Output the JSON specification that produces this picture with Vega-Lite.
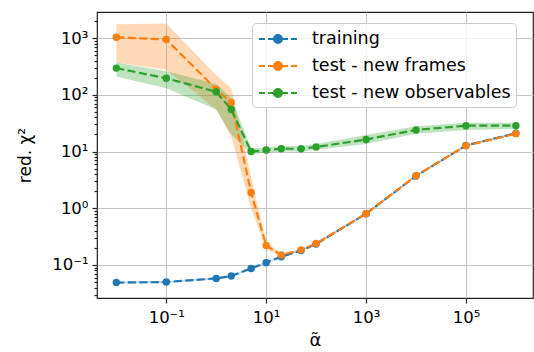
{
  "$schema": "https://vega.github.io/schema/vega-lite/v6.json",
  "width": 436,
  "height": 286,
  "autosize": "none",
  "padding": {"left": 97, "top": 12, "right": 1, "bottom": 54},
  "background": "white",
  "config": {
    "font": "DejaVu Sans",
    "view": {"stroke": "#222222", "strokeWidth": 1.2},
    "axis": {
      "domain": false,
      "labelFont": "DejaVu Sans",
      "labelFontSize": 16.5,
      "labelColor": "#000000",
      "titleFont": "DejaVu Sans",
      "titleFontSize": 17,
      "titleFontWeight": "normal",
      "titleColor": "#000000",
      "tickColor": "#222222",
      "tickWidth": 1.2,
      "gridColor": "#c4c4c4",
      "gridWidth": 1,
      "labelOverlap": false,
      "labelFlush": false
    }
  },
  "data": {
    "values": [
      {"series": "training", "alpha": 0.01, "chi2": 0.049, "lo": 0.047, "hi": 0.051},
      {"series": "training", "alpha": 0.1, "chi2": 0.050, "lo": 0.048, "hi": 0.052},
      {"series": "training", "alpha": 1, "chi2": 0.058, "lo": 0.056, "hi": 0.060},
      {"series": "training", "alpha": 2, "chi2": 0.064, "lo": 0.062, "hi": 0.066},
      {"series": "training", "alpha": 5, "chi2": 0.087, "lo": 0.084, "hi": 0.090},
      {"series": "training", "alpha": 10, "chi2": 0.11, "lo": 0.106, "hi": 0.114},
      {"series": "training", "alpha": 20, "chi2": 0.14, "lo": 0.135, "hi": 0.145},
      {"series": "training", "alpha": 50, "chi2": 0.18, "lo": 0.174, "hi": 0.186},
      {"series": "training", "alpha": 100, "chi2": 0.235, "lo": 0.227, "hi": 0.243},
      {"series": "training", "alpha": 1000, "chi2": 0.8, "lo": 0.77, "hi": 0.83},
      {"series": "training", "alpha": 10000, "chi2": 3.7, "lo": 3.57, "hi": 3.83},
      {"series": "training", "alpha": 100000, "chi2": 12.8, "lo": 12.4, "hi": 13.2},
      {"series": "training", "alpha": 1000000, "chi2": 21, "lo": 20.3, "hi": 21.7},
      {"series": "test - new frames", "alpha": 0.01, "chi2": 1030, "lo": 370, "hi": 1750},
      {"series": "test - new frames", "alpha": 0.1, "chi2": 940, "lo": 275, "hi": 1800},
      {"series": "test - new frames", "alpha": 1, "chi2": 125, "lo": 55, "hi": 220},
      {"series": "test - new frames", "alpha": 2, "chi2": 73, "lo": 18, "hi": 132},
      {"series": "test - new frames", "alpha": 5, "chi2": 1.9, "lo": 1.0, "hi": 3.5},
      {"series": "test - new frames", "alpha": 10, "chi2": 0.22, "lo": 0.19, "hi": 0.26},
      {"series": "test - new frames", "alpha": 20, "chi2": 0.15, "lo": 0.14, "hi": 0.16},
      {"series": "test - new frames", "alpha": 50, "chi2": 0.185, "lo": 0.178, "hi": 0.192},
      {"series": "test - new frames", "alpha": 100, "chi2": 0.24, "lo": 0.232, "hi": 0.248},
      {"series": "test - new frames", "alpha": 1000, "chi2": 0.8, "lo": 0.77, "hi": 0.83},
      {"series": "test - new frames", "alpha": 10000, "chi2": 3.75, "lo": 3.62, "hi": 3.88},
      {"series": "test - new frames", "alpha": 100000, "chi2": 12.7, "lo": 12.3, "hi": 13.1},
      {"series": "test - new frames", "alpha": 1000000, "chi2": 20.5, "lo": 19.8, "hi": 21.2},
      {"series": "test - new observables", "alpha": 0.01, "chi2": 295, "lo": 210, "hi": 370},
      {"series": "test - new observables", "alpha": 0.1, "chi2": 195, "lo": 130, "hi": 260},
      {"series": "test - new observables", "alpha": 1, "chi2": 113, "lo": 55, "hi": 155},
      {"series": "test - new observables", "alpha": 2, "chi2": 55, "lo": 20, "hi": 88},
      {"series": "test - new observables", "alpha": 5, "chi2": 10, "lo": 9, "hi": 11.3},
      {"series": "test - new observables", "alpha": 10, "chi2": 10.6, "lo": 9.5, "hi": 11.8},
      {"series": "test - new observables", "alpha": 20, "chi2": 11.2, "lo": 10, "hi": 12.5},
      {"series": "test - new observables", "alpha": 50, "chi2": 11.2, "lo": 10, "hi": 12.5},
      {"series": "test - new observables", "alpha": 100, "chi2": 12, "lo": 10.7, "hi": 13.5},
      {"series": "test - new observables", "alpha": 1000, "chi2": 16.3, "lo": 13.5, "hi": 19.5},
      {"series": "test - new observables", "alpha": 10000, "chi2": 24, "lo": 20.5, "hi": 28},
      {"series": "test - new observables", "alpha": 100000, "chi2": 28.5, "lo": 24, "hi": 32},
      {"series": "test - new observables", "alpha": 1000000, "chi2": 28.5, "lo": 25, "hi": 32}
    ]
  },
  "encoding": {
    "x": {
      "field": "alpha",
      "type": "quantitative",
      "scale": {"type": "log", "domain": [0.0041, 2200000], "nice": false},
      "axis": {
        "title": "α̃",
        "titleX": 218,
        "titleY": 42,
        "titleFontSize": 18,
        "titleBaseline": "middle",
        "values": [0.1, 10, 1000, 100000],
        "labelExpr": "round(log(datum.value)/LN10) == -1 ? '10⁻¹' : round(log(datum.value)/LN10) == 1 ? '10¹' : round(log(datum.value)/LN10) == 3 ? '10³' : round(log(datum.value)/LN10) == 5 ? '10⁵' : ''",
        "tickSize": 5,
        "labelPadding": 6
      }
    },
    "color": {
      "field": "series",
      "type": "nominal",
      "scale": {
        "domain": ["training", "test - new frames", "test - new observables"],
        "range": ["#1f77b4", "#ff7f0e", "#2ca02c"]
      },
      "legend": {
        "title": null,
        "orient": "none",
        "legendX": 155,
        "legendY": 11,
        "fillColor": "rgba(255,255,255,0.8)",
        "strokeColor": "#cccccc",
        "cornerRadius": 4,
        "padding": 5,
        "rowPadding": 7,
        "labelFont": "DejaVu Sans",
        "labelFontSize": 17.5,
        "labelColor": "#000000",
        "labelOffset": 33,
        "labelLimit": 400,
        "symbolType": "M-0.9,0H-0.3M0,0H0.6M1.4,0H2M2.3,0H2.9M0.6,0A0.4,0.4,0,1,1,1.4,0A0.4,0.4,0,1,1,0.6,0Z",
        "symbolSize": 400,
        "symbolStrokeWidth": 2,
        "encode": {
          "symbols": {
            "update": {
              "fill": {"scale": "color", "field": "value"},
              "stroke": {"scale": "color", "field": "value"},
              "opacity": {"value": 1},
              "fillOpacity": {"value": 1},
              "strokeOpacity": {"value": 1}
            }
          }
        }
      }
    }
  },
  "layer": [
    {
      "mark": {"type": "area", "opacity": 0.3},
      "encoding": {
        "y": {
          "field": "lo",
          "type": "quantitative",
          "scale": {"type": "log", "domain": [0.0262, 2877], "nice": false},
          "axis": {
            "title": "red. χ²",
            "titleX": -72,
            "titleY": 143,
            "titleBaseline": "middle",
            "titleAngle": -90,
            "values": [0.03, 0.04, 0.05, 0.06, 0.07, 0.08, 0.09, 0.1, 0.2, 0.3, 0.4, 0.5, 0.6, 0.7, 0.8, 0.9, 1, 2, 3, 4, 5, 6, 7, 8, 9, 10, 20, 30, 40, 50, 60, 70, 80, 90, 100, 200, 300, 400, 500, 600, 700, 800, 900, 1000, 2000],
            "labelExpr": "abs(log(datum.value)/LN10 - round(log(datum.value)/LN10)) > 0.001 ? '' : round(log(datum.value)/LN10) == -1 ? '10⁻¹' : round(log(datum.value)/LN10) == 0 ? '10⁰' : round(log(datum.value)/LN10) == 1 ? '10¹' : round(log(datum.value)/LN10) == 2 ? '10²' : round(log(datum.value)/LN10) == 3 ? '10³' : ''",
            "tickSize": {"condition": {"test": "abs(log(datum.value)/LN10 - round(log(datum.value)/LN10)) < 0.001", "value": 5}, "value": 3},
            "gridOpacity": {"condition": {"test": "abs(log(datum.value)/LN10 - round(log(datum.value)/LN10)) < 0.001", "value": 1}, "value": 0},
            "labelPadding": 4
          }
        },
        "y2": {"field": "hi"}
      }
    },
    {
      "mark": {
        "type": "line",
        "strokeWidth": 2.2,
        "strokeDash": [8, 3.5],
        "point": {"filled": true, "size": 55, "opacity": 1}
      },
      "encoding": {
        "y": {"field": "chi2", "type": "quantitative"}
      }
    }
  ]
}
